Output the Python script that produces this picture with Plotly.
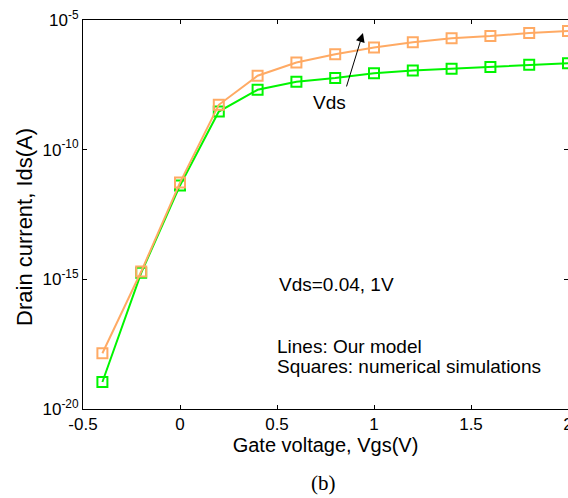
import plotly.graph_objects as go

vgs = [-0.4, -0.2, 0.0, 0.2, 0.4, 0.6, 0.8, 1.0, 1.2, 1.4, 1.6, 1.8, 2.0]
log_ids_vds1 = [-17.85, -14.70, -11.27, -8.27, -7.15, -6.64, -6.32, -6.06, -5.86, -5.70, -5.62, -5.50, -5.42]
log_ids_vds004 = [-18.96, -14.75, -11.38, -8.53, -7.69, -7.38, -7.24, -7.05, -6.95, -6.88, -6.81, -6.73, -6.67]

ids_vds1 = [10 ** v for v in log_ids_vds1]
ids_vds004 = [10 ** v for v in log_ids_vds004]

ytick_vals = [1e-20, 1e-15, 1e-10, 1e-5]
ytick_text = ["10<sup>-20</sup>", "10<sup>-15</sup>", "10<sup>-10</sup>", "10<sup>-5</sup>"]
xtick_vals = [-0.5, 0, 0.5, 1, 1.5, 2]
xtick_text = ["-0.5", "0", "0.5", "1", "1.5", "2"]

GREEN = "rgb(0,245,0)"
ORANGE = "rgb(255,170,100)"
FONT = "Liberation Sans, Arial, sans-serif"

fig = go.Figure()
fig.add_trace(go.Scatter(
    x=vgs, y=ids_vds004, mode="lines+markers",
    line=dict(color=GREEN, width=2),
    marker=dict(symbol="square-open", size=10, color=GREEN, line=dict(width=2, color=GREEN)),
    showlegend=False, cliponaxis=False))
fig.add_trace(go.Scatter(
    x=vgs, y=ids_vds1, mode="lines+markers",
    line=dict(color=ORANGE, width=2),
    marker=dict(symbol="square-open", size=10, color=ORANGE, line=dict(width=2, color=ORANGE)),
    showlegend=False, cliponaxis=False))

ann_font = dict(family=FONT, size=19, color="black")
fig.add_annotation(x=0.943, y=-5.5, ax=0.856, ay=-7.62, xref="x", yref="y", axref="x", ayref="y",
                   showarrow=True, arrowhead=2, arrowsize=1.8, arrowwidth=1, arrowcolor="black", text="")
fig.add_annotation(x=0.773, y=-8.2, xref="x", yref="y", text="Vds", showarrow=False, font=ann_font)
fig.add_annotation(x=0.5, y=-15.19, xref="x", yref="y", text="Vds=0.04, 1V", showarrow=False,
                   xanchor="left", font=ann_font)
fig.add_annotation(x=0.49, y=-17.58, xref="x", yref="y", text="Lines: Our model", showarrow=False,
                   xanchor="left", font=ann_font)
fig.add_annotation(x=0.49, y=-18.38, xref="x", yref="y", text="Squares: numerical simulations",
                   showarrow=False, xanchor="left", font=ann_font)
# y-axis title (placed as in the reference, slightly below the plot centre)
fig.add_annotation(x=-0.1196, y=0.468, xref="paper", yref="paper", text="Drain current, Ids(A)",
                   textangle=-90, showarrow=False, xanchor="center", yanchor="middle",
                   font=dict(family=FONT, size=22, color="black"))
fig.add_annotation(x=0.495, y=-0.19, xref="paper", yref="paper", text="(b)", showarrow=False,
                   xanchor="center", yanchor="middle",
                   font=dict(family="Liberation Serif, Times New Roman, serif", size=21, color="black"))

fig.update_layout(
    width=568, height=498,
    margin=dict(l=83, r=0, t=20, b=89, autoexpand=False),
    paper_bgcolor="white", plot_bgcolor="white",
    font=dict(family=FONT, size=17, color="black"),
    xaxis=dict(range=[-0.5, 2.0], tickvals=xtick_vals, ticktext=xtick_text,
               showgrid=False, zeroline=False, showline=True, linecolor="black", linewidth=1,
               mirror="ticks", ticks="inside", ticklen=4, tickcolor="black",
               tickfont=dict(size=17), ticklabeloverflow="allow", automargin=False,
               title=dict(text="Gate voltage, Vgs(V)", font=dict(size=20), standoff=4)),
    yaxis=dict(type="log", range=[-20, -5], tickvals=ytick_vals, ticktext=ytick_text,
               showgrid=False, zeroline=False, showline=True, linecolor="black", linewidth=1,
               mirror="ticks", ticks="inside", ticklen=4, tickcolor="black",
               tickfont=dict(size=17), ticklabeloverflow="allow", automargin=False),
)

fig.write_html("out.html")
